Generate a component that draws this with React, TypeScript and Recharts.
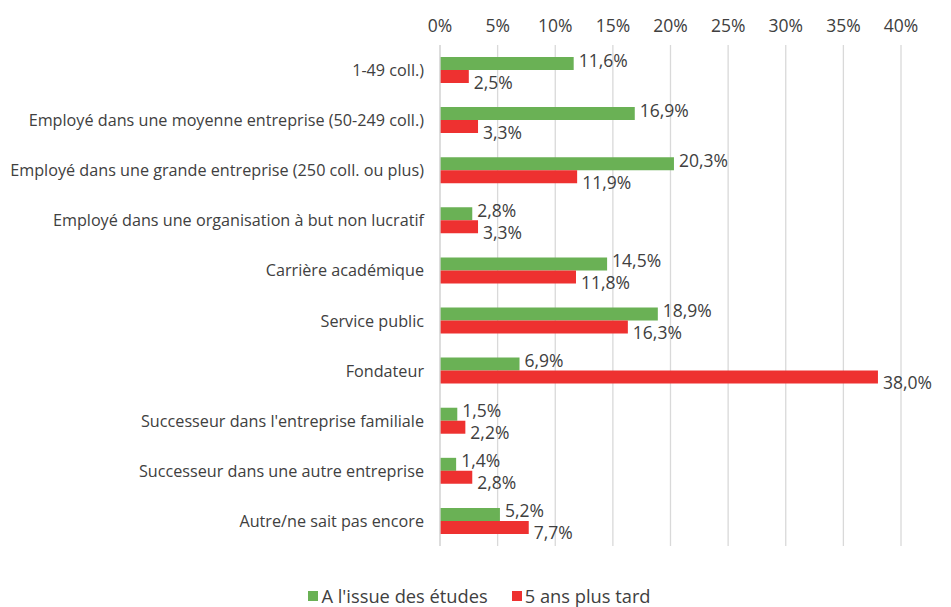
import React from "react";
import {
  BarChart,
  Bar,
  XAxis,
  YAxis,
  CartesianGrid,
  Legend,
  LabelList,
} from "recharts";

const categories = [
  "1-49 coll.)",
  "Employé dans une moyenne entreprise (50-249 coll.)",
  "Employé dans une grande entreprise (250 coll. ou plus)",
  "Employé dans une organisation à but non lucratif",
  "Carrière académique",
  "Service public",
  "Fondateur",
  "Successeur dans l'entreprise familiale",
  "Successeur dans une autre entreprise",
  "Autre/ne sait pas encore",
];
const afterStudies = [11.6, 16.9, 20.3, 2.8, 14.5, 18.9, 6.9, 1.5, 1.4, 5.2];
const fiveYearsLater = [2.5, 3.3, 11.9, 3.3, 11.8, 16.3, 38.0, 2.2, 2.8, 7.7];
const xTicks = [0, 5, 10, 15, 20, 25, 30, 35, 40];

const seriesNames = ["A l'issue des études", "5 ans plus tard"];
const GREEN = "#6ab155";
const RED = "#ee3130";
const TEXT = "#404040";
const GRID = "#d9d9d9";
const FONT = "'Open Sans', sans-serif";

const data = categories.map((name, i) => ({
  name,
  a: afterStudies[i],
  b: fiveYearsLater[i],
}));

const fmt = (v: number) => v.toFixed(1).replace(".", ",") + "%";

const YTick = (props: any) => {
  const { x, y, payload } = props;
  return (
    <text
      x={x}
      y={y}
      textAnchor="end"
      dominantBaseline="central"
      fill={TEXT}
      fontSize={16.2}
      fontFamily={FONT}
    >
      {payload.value}
    </text>
  );
};

const XTick = (props: any) => {
  const { x, payload } = props;
  return (
    <text
      x={x}
      y={25}
      textAnchor="middle"
      dominantBaseline="central"
      fill={TEXT}
      fontSize={17.5}
      fontFamily={FONT}
    >
      {payload.value}%
    </text>
  );
};

const makeLabel = (dy: number) => (props: any) => {
  const { x, y, width, height, value } = props;
  return (
    <text
      x={x + width + 5}
      y={y + height / 2 + dy}
      dominantBaseline="central"
      fill={TEXT}
      fontSize={17.5}
      fontFamily={FONT}
    >
      {fmt(value)}
    </text>
  );
};

const LegendContent = () => (
  <div
    style={{
      display: "flex",
      justifyContent: "center",
      alignItems: "center",
      fontFamily: FONT,
      fontSize: 18.3,
      color: TEXT,
      paddingLeft: 8,
    }}
  >
    {seriesNames.map((n, i) => (
      <div
        key={n}
        style={{ display: "flex", alignItems: "center", marginRight: i === 0 ? 24 : 0 }}
      >
        <span
          style={{
            display: "inline-block",
            width: 10,
            height: 10,
            background: i === 0 ? GREEN : RED,
            marginRight: 3,
          }}
        />
        <span>{n}</span>
      </div>
    ))}
  </div>
);

export default function App() {
  return (
    <div style={{ position: "absolute", left: 0, top: 0, background: "#fff" }}>
      <BarChart
        width={951}
        height={607}
        data={data}
        layout="vertical"
        margin={{ top: 15, right: 50, bottom: 37, left: 0 }}
        barCategoryGap="24%"
        barGap={0}
      >
        <CartesianGrid horizontal={false} stroke={GRID} strokeWidth={1.3} />
        <XAxis
          type="number"
          orientation="top"
          domain={[0, 40]}
          ticks={xTicks}
          height={30}
          axisLine={false}
          tickLine={false}
          tick={<XTick />}
          interval={0}
        />
        <YAxis
          type="category"
          dataKey="name"
          width={440}
          axisLine={{ stroke: GRID, strokeWidth: 1.3 }}
          tickLine={false}
          tickSize={0}
          tickMargin={16}
          tick={<YTick />}
          interval={0}
        />
        <Legend
          verticalAlign="bottom"
          height={24}
          wrapperStyle={{ bottom: 0, left: 0, width: 951 }}
          content={<LegendContent />}
        />
        <Bar dataKey="a" name={seriesNames[0]} fill={GREEN} isAnimationActive={false}>
          <LabelList dataKey="a" content={makeLabel(-4)} />
        </Bar>
        <Bar dataKey="b" name={seriesNames[1]} fill={RED} isAnimationActive={false}>
          <LabelList dataKey="b" content={makeLabel(5)} />
        </Bar>
      </BarChart>
    </div>
  );
}
